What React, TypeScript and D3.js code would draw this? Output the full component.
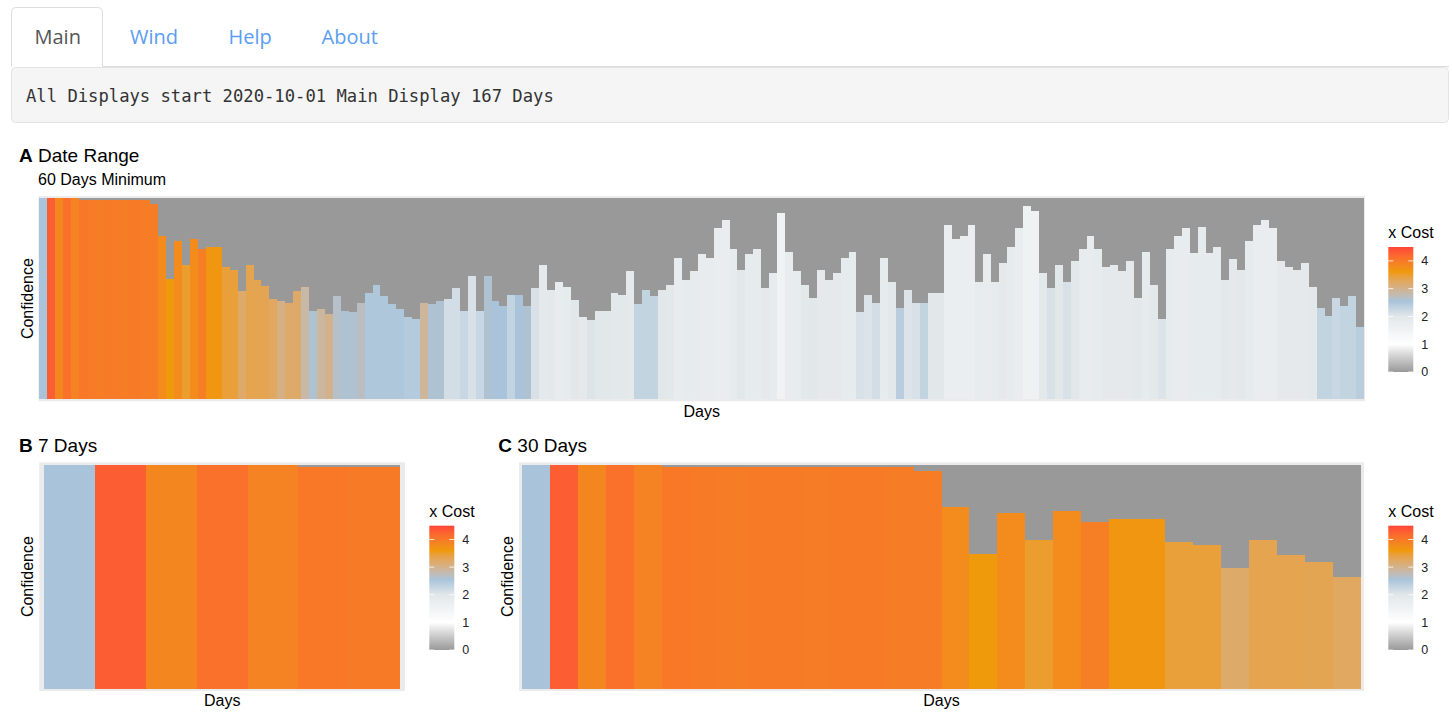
import React from 'react';
import * as d3 from 'd3';

// confidence per day (0..1), 167 days from 2020-10-01
const confidence = [
  1, 1, 1, 1, 1, 0.99, 0.99, 0.99, 0.99, 0.99,
  0.99, 0.99, 0.99, 0.99, 0.97, 0.81, 0.6, 0.785, 0.665, 0.795,
  0.745, 0.755, 0.755, 0.655, 0.64, 0.54, 0.665, 0.595, 0.565, 0.5,
  0.49, 0.48, 0.54, 0.56, 0.44, 0.45, 0.425, 0.515, 0.44, 0.435,
  0.48, 0.53, 0.57, 0.515, 0.475, 0.45, 0.41, 0.4, 0.48, 0.475,
  0.49, 0.5, 0.555, 0.44, 0.615, 0.44, 0.615, 0.49, 0.465, 0.52,
  0.52, 0.465, 0.555, 0.665, 0.545, 0.585, 0.56, 0.495, 0.41, 0.395,
  0.44, 0.44, 0.53, 0.52, 0.635, 0.475, 0.545, 0.515, 0.545, 0.57,
  0.7, 0.595, 0.635, 0.72, 0.7, 0.85, 0.89, 0.745, 0.64, 0.72,
  0.745, 0.555, 0.625, 0.925, 0.73, 0.635, 0.57, 0.505, 0.64, 0.595,
  0.625, 0.7, 0.73, 0.435, 0.52, 0.48, 0.7, 0.585, 0.455, 0.545,
  0.48, 0.48, 0.53, 0.53, 0.865, 0.795, 0.81, 0.865, 0.585, 0.72,
  0.585, 0.675, 0.755, 0.85, 0.96, 0.935, 0.625, 0.555, 0.665, 0.585,
  0.685, 0.745, 0.81, 0.745, 0.655, 0.665, 0.635, 0.685, 0.505, 0.73,
  0.57, 0.4, 0.745, 0.81, 0.85, 0.725, 0.855, 0.725, 0.755, 0.595,
  0.695, 0.64, 0.785, 0.865, 0.89, 0.85, 0.685, 0.655, 0.64, 0.675,
  0.56, 0.455, 0.415, 0.505, 0.465, 0.515, 0.36,
];

// x Cost per day
const xCost = [
  2.55, 4.3, 3.85, 4.1, 3.9, 4.02, 4.0, 3.98, 4.0, 4.0,
  3.98, 4.0, 4.0, 3.98, 3.97, 3.8, 3.6, 3.8, 3.5, 3.8,
  3.95, 3.65, 3.65, 3.45, 3.45, 3.2, 3.35, 3.35, 3.33, 3.25,
  3.05, 3.2, 3.2, 2.85, 2.6, 2.9, 3.0, 2.65, 2.6, 2.6,
  2.7, 2.5, 2.5, 2.5, 2.5, 2.5, 2.45, 2.45, 2.92, 2.6,
  2.6, 2.15, 2.15, 2.25, 2.1, 2.25, 2.6, 2.55, 2.55, 2.3,
  2.55, 2.6, 2.1, 1.9, 1.95, 1.8, 1.85, 2.0, 1.9, 2.05,
  2.0, 2.0, 1.95, 1.95, 1.9, 2.3, 2.3, 2.3, 2.0, 1.95,
  1.8, 1.85, 1.85, 1.8, 1.8, 1.75, 1.75, 1.85, 2.0, 1.85,
  1.85, 1.9, 1.85, 1.5, 1.8, 1.85, 1.95, 2.0, 1.9, 1.9,
  1.9, 1.85, 1.85, 2.1, 2.05, 2.15, 1.85, 1.95, 2.4, 2.05,
  2.1, 2.3, 2.0, 2.0, 1.7, 1.7, 1.7, 1.7, 1.85, 1.8,
  1.85, 1.9, 1.85, 1.75, 1.55, 1.55, 1.95, 2.1, 2.0, 2.1,
  2.0, 1.85, 1.8, 1.85, 1.9, 1.9, 1.9, 1.9, 1.95, 1.85,
  1.95, 2.05, 1.85, 1.8, 1.8, 1.85, 1.85, 1.85, 1.85, 1.95,
  1.9, 1.95, 1.85, 1.75, 1.75, 1.75, 1.9, 1.9, 1.9, 1.9,
  1.95, 2.3, 2.3, 2.25, 2.3, 2.3, 2.4,
];

const costStops = [0, 1, 2, 2.55, 3.6, 4.5];
const costColors = ['#999999', '#ffffff', '#e2e7ea', '#a9c4da', '#ef9a0a', '#ff4438'];
const legendTicks = [0, 1, 2, 3, 4];
const tabs = ['Main', 'Wind', 'Help', 'About'];
const infoText = 'All Displays start 2020-10-01 Main Display 167 Days';

const FONT = '"Liberation Sans", Arial, sans-serif';

const costColor = d3
  .scaleLinear<string>()
  .domain(costStops)
  .range(costColors)
  .interpolate(d3.interpolateLab)
  .clamp(true);

interface PanelProps {
  n: number;
  left: number;
  top: number;
  width: number;
  height: number;
}

const BarPanel = ({ n, left, top, width, height }: PanelProps) => {
  const days = d3.range(n);
  const x = d3
    .scaleBand<number>()
    .domain(days)
    .range([left, left + width])
    .paddingInner(0)
    .paddingOuter(0.1);
  const y = d3.scaleLinear().domain([-0.01, 1.01]).range([top + height, top]);

  return (
    <g>
      <rect x={left} y={top} width={width} height={height} fill="#ebebeb" />
      {days.map((d) => (
        <g key={d} shapeRendering="crispEdges">
          <rect
            x={x(d)}
            y={y(1)}
            width={x.bandwidth()}
            height={y(confidence[d]) - y(1)}
            fill="#999999"
          />
          <rect
            x={x(d)}
            y={y(confidence[d])}
            width={x.bandwidth()}
            height={y(0) - y(confidence[d])}
            fill={costColor(xCost[d])}
          />
        </g>
      ))}
    </g>
  );
};

const Legend = ({ left, top, bottom, id }: { left: number; top: number; bottom: number; id: string }) => {
  const barW = 25;
  const ly = d3.scaleLinear().domain([0, 4.5]).range([bottom, top]);
  const stops = d3.range(0, 4.5001, 0.05);
  return (
    <g fontFamily={FONT}>
      <defs>
        <linearGradient id={id} x1="0" y1="1" x2="0" y2="0">
          {stops.map((s) => (
            <stop key={s} offset={s / 4.5} stopColor={costColor(s)} />
          ))}
        </linearGradient>
      </defs>
      <text x={left} y={top - 9} fontSize={16} fill="#000">
        x Cost
      </text>
      <rect x={left} y={top} width={barW} height={bottom - top} fill={`url(#${id})`} />
      {legendTicks.map((t) => (
        <g key={t}>
          <line x1={left} x2={left + 5} y1={ly(t)} y2={ly(t)} stroke="#ffffff" strokeOpacity={0.8} />
          <line x1={left + barW - 5} x2={left + barW} y1={ly(t)} y2={ly(t)} stroke="#ffffff" strokeOpacity={0.8} />
          <text x={left + barW + 8} y={ly(t)} dy="0.35em" fontSize={12.5} fill="#222">
            {t}
          </text>
        </g>
      ))}
    </g>
  );
};

const PanelTitle = ({ x, y, tag, title }: { x: number; y: number; tag: string; title: string }) => (
  <text x={x} y={y} fontFamily={FONT} fontSize={19} fill="#000">
    <tspan fontWeight="bold">{tag}</tspan> {title}
  </text>
);

const AxisLabels = ({ left, width, top, height, yLabelX, xLabelY }: any) => (
  <g fontFamily={FONT} fontSize={16} fill="#000">
    <text
      transform={`translate(${yLabelX},${top + height / 2}) rotate(-90)`}
      textAnchor="middle"
    >
      Confidence
    </text>
    <text x={left + width / 2} y={xLabelY} textAnchor="middle">
      Days
    </text>
  </g>
);

export default function App() {
  const tabX = [34.5, 130, 228.5, 321.5];

  // panel geometry
  const pA = { left: 38.5, top: 196, width: 1326.5, height: 205.3 };
  const pB = { left: 39.3, top: 462.3, width: 365.7, height: 228.7 };
  const pC = { left: 519, top: 462.3, width: 845, height: 228.7 };

  return (
    <svg
      width={1452}
      height={712}
      style={{ position: 'absolute', left: 0, top: 0, display: 'block', background: '#fff' }}
    >
      {/* tabs */}
      <line x1={102.5} x2={1449} y1={66.5} y2={66.5} stroke="#dddddd" />
      <path
        d="M11.5,66.5 V12.5 Q11.5,7.5 16.5,7.5 H97.5 Q102.5,7.5 102.5,12.5 V66.5"
        fill="#ffffff"
        stroke="#dddddd"
      />
      {tabs.map((t, i) => (
        <text
          key={t}
          x={tabX[i]}
          y={43.5}
          fontFamily='"Open Sans", sans-serif'
          fontSize={20}
          fill={i === 0 ? '#555555' : '#5b9df0'}
        >
          {t}
        </text>
      ))}

      {/* info well */}
      <rect x={11.5} y={67.5} width={1437} height={55} rx={4} fill="#f5f5f5" stroke="#e3e3e3" />
      <text x={26} y={102} fontFamily='"DejaVu Sans Mono", monospace' fontSize={17.2} fill="#333333">
        {infoText}
      </text>

      {/* panel A */}
      <PanelTitle x={19} y={161.7} tag="A" title="Date Range" />
      <text x={38} y={185} fontFamily={FONT} fontSize={16} fill="#000">
        60 Days Minimum
      </text>
      <BarPanel n={167} {...pA} />
      <AxisLabels {...pA} yLabelX={32.5} xLabelY={416.5} />
      <Legend left={1388.3} top={247} bottom={372} id="gradA" />

      {/* panel B */}
      <PanelTitle x={19} y={451.7} tag="B" title="7 Days" />
      <BarPanel n={7} {...pB} />
      <AxisLabels {...pB} yLabelX={32.5} xLabelY={706} />
      <Legend left={429.3} top={525.7} bottom={650} id="gradB" />

      {/* panel C */}
      <PanelTitle x={498.3} y={451.7} tag="C" title="30 Days" />
      <BarPanel n={30} {...pC} />
      <AxisLabels {...pC} yLabelX={512.5} xLabelY={706} />
      <Legend left={1388.3} top={525.7} bottom={650} id="gradC" />
    </svg>
  );
}
